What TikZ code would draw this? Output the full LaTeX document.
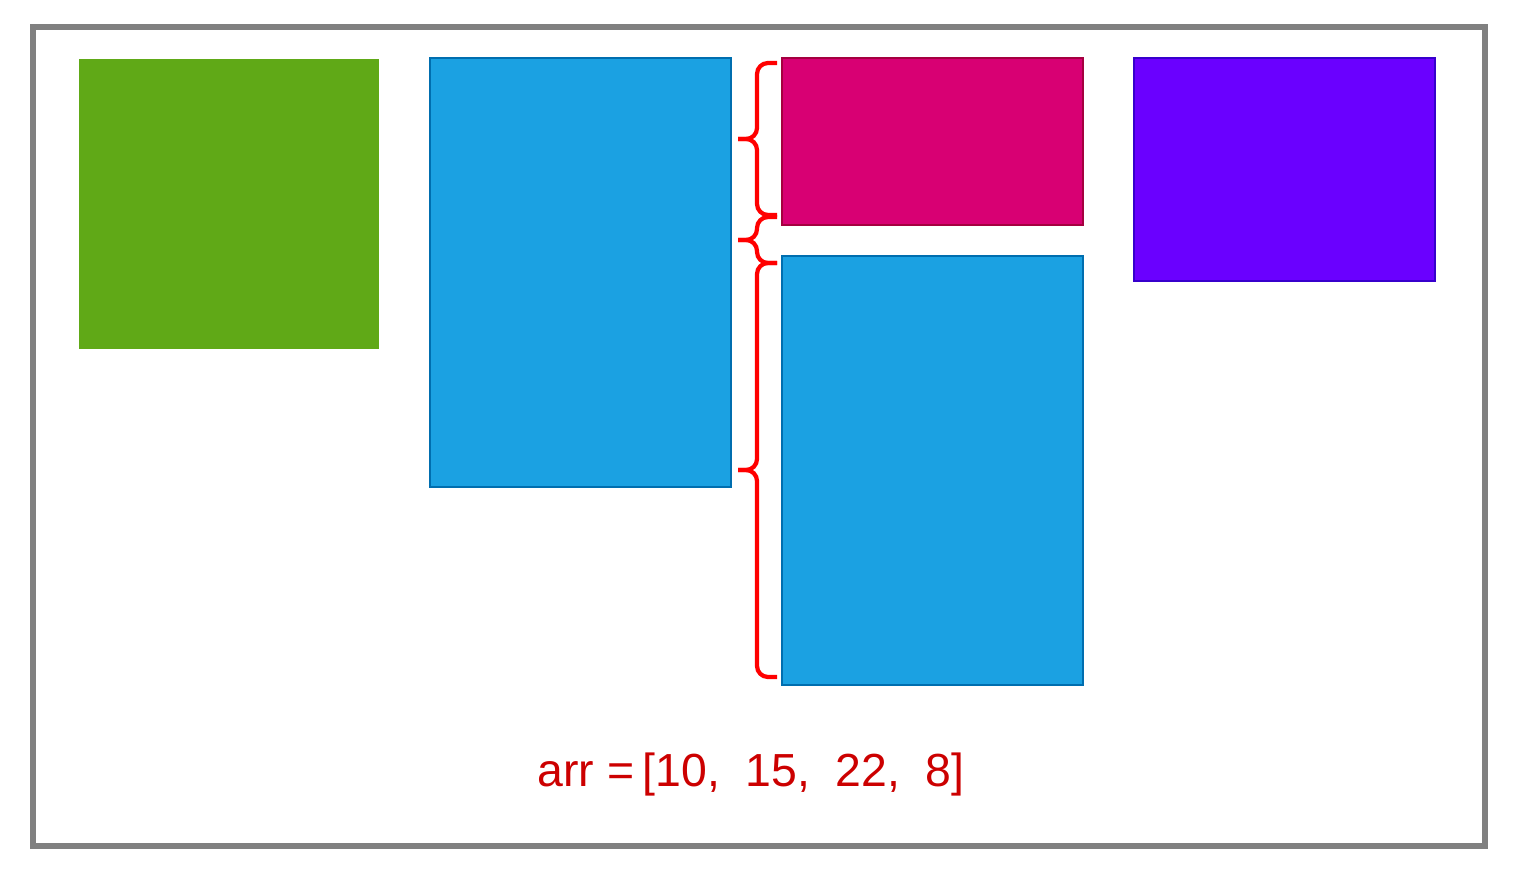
\documentclass[tikz,border=0pt]{standalone}
\usepackage{fontspec}
\setmainfont{Liberation Sans}
\usepackage{tikz}
\usetikzlibrary{calc}

\definecolor{frameGray}{HTML}{808080}
\definecolor{leafGreen}{HTML}{60A917}
\definecolor{skyBlue}{HTML}{1BA1E2}
\definecolor{skyBlueLine}{HTML}{006EAF}
\definecolor{magentaFill}{HTML}{D80073}
\definecolor{magentaLine}{HTML}{A50040}
\definecolor{violetFill}{HTML}{6A00FF}
\definecolor{violetLine}{HTML}{3700CC}
\definecolor{arrRed}{HTML}{CC0000}

\tikzset{
    block/.style={rectangle, inner sep=0pt, outer sep=0pt, anchor=north west, line width=0.4pt},
    curly/.style={draw=red, line width=1.2pt, rounded corners=0.11cm},
}
% brace on the left of the third column: top y, bottom y, tip y
\newcommand{\leftBrace}[3]{
    \draw[curly] (7.77,#1) -- (7.57,#1) -- (7.57,#3) -- (7.38,#3);
    \draw[curly] (7.77,#2) -- (7.57,#2) -- (7.57,#3) -- (7.38,#3);
}

\begin{document}
\begin{tikzpicture}
        \useasboundingbox (0,0) rectangle (15.16,8.80);
        \draw[frameGray, line width=0.06cm] (0.33,0.34) rectangle (14.85,8.53);

        % first column
        \node[block, fill=leafGreen, minimum width=3cm, minimum height=2.9cm] (green) at (0.79,8.21) {};
        % second column
        \node[block, fill=skyBlue, draw=skyBlueLine, minimum width=3.01cm, minimum height=4.29cm] (blueA) at (4.30,8.22) {};
        % third column
        \node[block, fill=magentaFill, draw=magentaLine, minimum width=3.01cm, minimum height=1.67cm] (pink) at (7.82,8.22) {};
        \node[block, fill=skyBlue, draw=skyBlueLine, minimum width=3.01cm, minimum height=4.29cm] (blueB) at (7.82,6.24) {};
        % fourth column
        \node[block, fill=violetFill, draw=violetLine, minimum width=3.01cm, minimum height=2.23cm] (purple) at (11.34,8.22) {};

        % braces
        \leftBrace{8.17}{6.65}{7.41}
        \leftBrace{6.63}{6.17}{6.40}
        \leftBrace{6.17}{2.03}{4.10}

        \node[text=arrRed, font=\fontsize{13.2}{15}\selectfont] (arr) at (7.51,1.06) {arr =\hspace{-0.1em} [10,\hspace{0.55em}15,\hspace{0.55em}22,\hspace{0.55em}8]};
    \end{tikzpicture}
\end{document}
